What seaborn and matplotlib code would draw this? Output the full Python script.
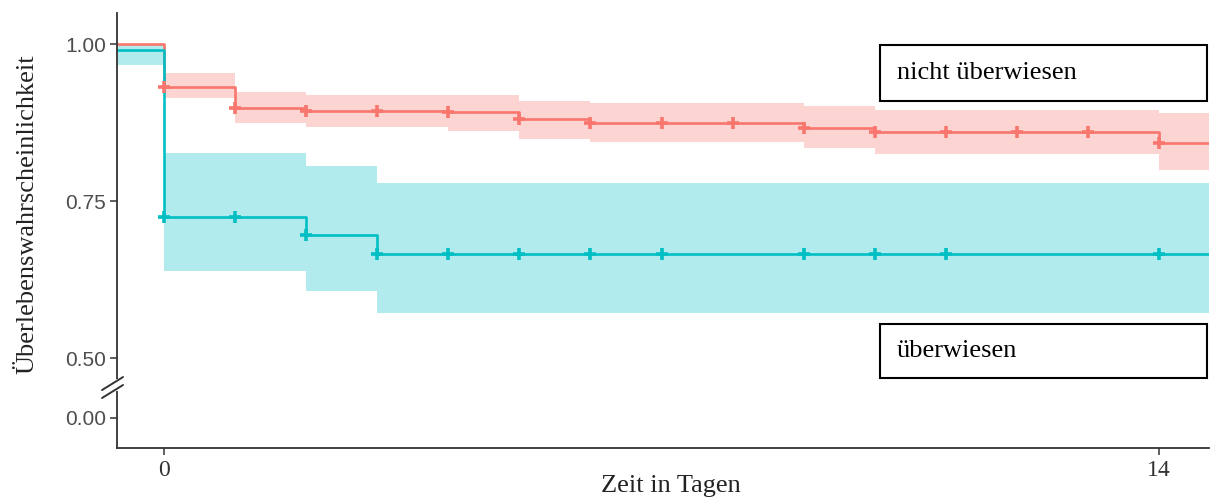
import numpy as np
import pandas as pd
import matplotlib
matplotlib.use("Agg")
import matplotlib.pyplot as plt
from matplotlib.patches import Rectangle
from matplotlib.lines import Line2D
from matplotlib.transforms import blended_transform_factory
import seaborn as sns

# Kaplan-Meier estimates (step start times in days, survival, 95% CI)
t_start = -0.66
t_end = 14.7

nicht_t = [t_start, 0, 1, 2, 4, 5, 6, 9, 10, 14]
nicht_s = [1.000, 0.932, 0.898, 0.894, 0.891, 0.880, 0.875, 0.867, 0.860, 0.843]
nicht_lo = [1.000, 0.914, 0.874, 0.868, 0.861, 0.849, 0.844, 0.834, 0.825, 0.799]
nicht_hi = [1.000, 0.954, 0.924, 0.919, 0.919, 0.909, 0.906, 0.901, 0.895, 0.890]
nicht_censor = [0, 1, 2, 3, 4, 5, 6, 7, 8, 9, 10, 11, 12, 13, 14]

ueber_t = [t_start, 0, 2, 3]
ueber_s = [0.990, 0.724, 0.696, 0.665]
ueber_lo = [0.966, 0.639, 0.606, 0.572]
ueber_hi = [1.000, 0.826, 0.805, 0.779]
ueber_censor = [0, 1, 2, 3, 4, 5, 6, 7, 9, 10, 11, 14]

group_names = ["nicht überwiesen", "überwiesen"]
colors = ["#F8766D", "#00BFC4"]

ytick_values = [0.00, 0.50, 0.75, 1.00]
ytick_labels = ["0.00", "0.50", "0.75", "1.00"]
xtick_values = [0, 14]
xtick_labels = ["0", "14"]

# broken y axis: the 0.00 tick sits just below the 0.50..1.00 range
Y_ZERO_POS = 0.4045


def ypos(v):
    v = np.asarray(v, dtype=float)
    return np.where(v >= 0.5, v, Y_ZERO_POS + v)


sns.set_theme(style="white")
plt.rcParams["font.family"] = ["Liberation Serif", "DejaVu Sans"]

fig = plt.figure(figsize=(12.23, 4.99), dpi=100)
ax = fig.add_axes([117 / 1223, 1 - 448 / 499, (1209 - 117) / 1223, (448 - 13) / 499])

curves = [
    (nicht_t, nicht_s, nicht_lo, nicht_hi, nicht_censor),
    (ueber_t, ueber_s, ueber_lo, ueber_hi, ueber_censor),
]

# confidence bands
for (t, s, lo, hi, cens), col in zip(curves, colors):
    tt = np.append(t, t_end)
    ax.fill_between(tt, np.append(lo, lo[-1]), np.append(hi, hi[-1]),
                    step="post", color=col, alpha=0.3, linewidth=0)

# survival step curves and censoring marks
for (t, s, lo, hi, cens), col, name in zip(curves, colors, group_names):
    df = pd.DataFrame({"Zeit": np.append(t, t_end), "S": np.append(s, s[-1])})
    sns.lineplot(data=df, x="Zeit", y="S", ax=ax, color=col, linewidth=1.9,
                 drawstyle="steps-post", estimator=None, sort=False)
    idx = np.searchsorted(t, cens, side="right") - 1
    cdf = pd.DataFrame({"Zeit": cens, "S": np.asarray(s)[idx]})
    sns.scatterplot(data=cdf, x="Zeit", y="S", ax=ax, color=col, marker="+",
                    s=85, linewidth=2.6, zorder=5)

ax.set_xlim(t_start, t_end)
ax.set_ylim(0.3567, 1.0494)
ax.set_xticks(xtick_values)
ax.set_xticklabels(xtick_labels, fontsize=17, color="#333333",
                   family="Liberation Serif")
ax.set_yticks(ypos(ytick_values))
ax.set_yticklabels(ytick_labels, fontsize=15, color="#4D4D4D",
                   family="Liberation Sans")
ax.tick_params(axis="both", which="both", length=5, width=1.1, color="#333333",
               bottom=True, left=True)
ax.tick_params(axis="y", pad=3)
ax.tick_params(axis="x", pad=4)
ax.set_xlabel("")
ax.set_ylabel("")

for side in ["top", "right"]:
    ax.spines[side].set_visible(False)
for side in ["left", "bottom"]:
    ax.spines[side].set_color("#333333")
    ax.spines[side].set_linewidth(1.3)

# axis break on the left spine: gap plus two slanted strokes
brk = blended_transform_factory(ax.transAxes, ax.transData)
ax.add_line(Line2D([0, 0], [0.4506, 0.4633], transform=brk, color="white",
                   linewidth=3, clip_on=False, zorder=6))
for y0, y1 in [(0.4490, 0.4697), (0.4363, 0.4570)]:
    ax.add_line(Line2D([-0.0137, 0.0055], [y0, y1], transform=brk,
                       color="#333333", linewidth=1.4, clip_on=False, zorder=7))

fig.text(27 / 1223, 1 - 214 / 499, "Überlebenswahrscheinlichkeit", rotation=90,
         fontsize=19, ha="center", va="center", color="#222222")
fig.text(671 / 1223, 1 - 486 / 499, "Zeit in Tagen", fontsize=19,
         ha="center", va="center", color="#222222")

# labelled boxes for the two groups
boxes = [(45, 101), (324, 378)]
for name, (ytop, ybot) in zip(group_names, boxes):
    x0 = 880 / 1223
    w = (1207 - 880) / 1223
    y0 = 1 - ybot / 499
    h = (ybot - ytop) / 499
    fig.patches.append(Rectangle((x0, y0), w, h, transform=fig.transFigure,
                                 fill=False, edgecolor="black", linewidth=1.5))
    fig.text(897 / 1223, y0 + h / 2, name, fontsize=19, ha="left", va="center",
             color="black")

fig.savefig("out.png", dpi=100)
